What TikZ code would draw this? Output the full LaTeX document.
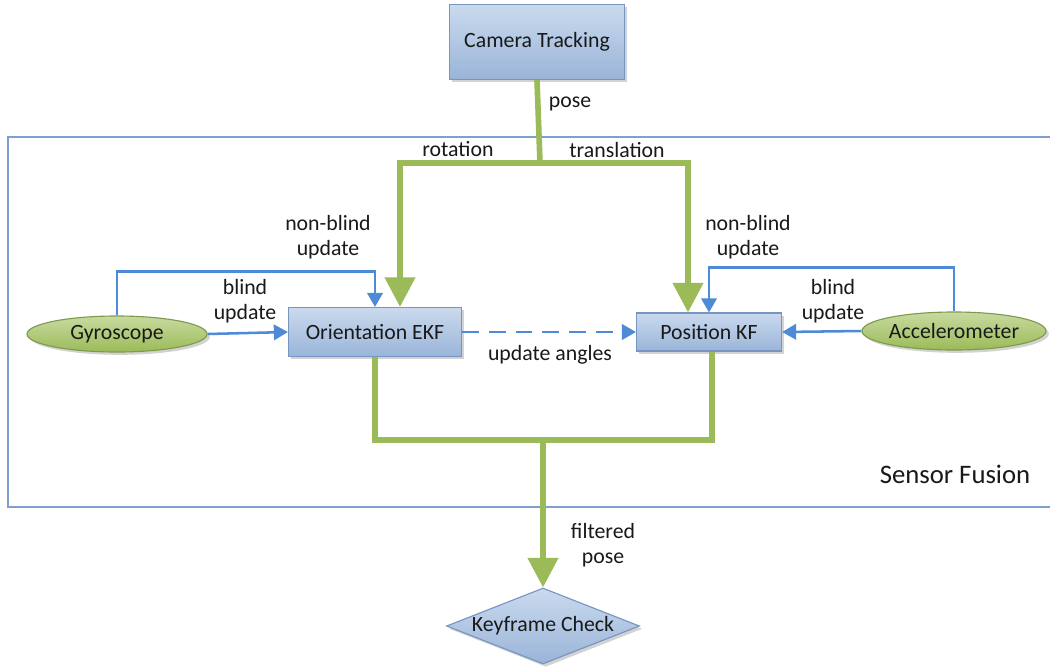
\documentclass[tikz,border=0pt]{standalone}
\usepackage{fontspec}
\setmainfont{Carlito}
\usetikzlibrary{arrows.meta,shapes.geometric,shadows}
\definecolor{boxtop}{HTML}{CADAEE}
\definecolor{boxbot}{HTML}{9AB4D8}
\definecolor{boxline}{HTML}{7795C0}
\definecolor{sensortop}{HTML}{C8DAA0}
\definecolor{sensorbot}{HTML}{9BBB59}
\definecolor{sensorline}{HTML}{7F9A4C}
\definecolor{flowgreen}{HTML}{9BBB59}
\definecolor{flowblue}{HTML}{4F8AD6}
\definecolor{frameline}{HTML}{7E9FD0}

\begin{document}
\begin{tikzpicture}[x=0.025cm,y=-0.025cm]
\tikzstyle{every node}+=[font=\fontsize{15.5}{17.5}\selectfont, text=black!90]
\tikzstyle{blockbox}=[draw=boxline, line width=0.8pt, top color=boxtop, bottom color=boxbot, inner sep=0pt, drop shadow={opacity=0.35, shadow xshift=2pt, shadow yshift=-2pt}]
\tikzstyle{sensor}=[ellipse, draw=sensorline, line width=0.8pt, top color=sensortop, bottom color=sensorbot, inner sep=0pt, drop shadow={opacity=0.35, shadow xshift=2pt, shadow yshift=-2pt}]
\tikzstyle{greenline}=[draw=flowgreen, line width=4pt]
\tikzstyle{greenarrow}=[greenline, -{Triangle[length=21pt, width=21pt]}]
\tikzstyle{blueline}=[draw=flowblue, line width=1.8pt]
\tikzstyle{bluearrow}=[blueline, -{Triangle[length=10pt, width=11pt]}]
\tikzstyle{lbl}=[align=center, inner sep=0pt]
\useasboundingbox (0,0) rectangle (1050,666);
\fill [white] (0,0) rectangle (1050,666);
% sensor fusion frame
\draw [frameline, line width=0.8pt] (8,137) rectangle (1056,507);
\node [font=\fontsize{19}{21}\selectfont] (fusion) at (955,474) {Sensor Fusion};
% blocks
\node [blockbox, minimum width=4.375cm, minimum height=1.875cm] (cam) at (537,42) {Camera Tracking};
\node [blockbox, minimum width=4.325cm, minimum height=1.225cm] (ekf) at (375,332) {Orientation EKF};
\node [blockbox, minimum width=3.625cm, minimum height=0.95cm] (pos) at (709,332) {Position KF};
\node [sensor, minimum width=4.5cm, minimum height=0.9cm] (gyro) at (117,334) {Gyroscope};
\node [sensor, minimum width=4.575cm, minimum height=0.95cm] (acc) at (954,331) {Accelerometer};
\node [blockbox, diamond, aspect=2.5, minimum width=4.825cm, minimum height=1.9cm] (key) at (543,626) {Keyframe Check};
% camera pose split
\coordinate (split) at (540,163);
\draw [greenline] (cam.south) -- (split);
\draw [greenarrow] (split) -| ([xshift=0.625cm]ekf.north);
\draw [greenarrow] (split) -| ([xshift=-0.525cm]pos.north);
\node [lbl] (pose) at (570,104) {pose};
\node [lbl] (rot) at (458,149) {rotation};
\node [lbl] (trans) at (617,150) {translation};
\node [lbl] (nbl) at (328,237) {non-blind\\update};
\node [lbl] (nbr) at (748,237) {non-blind\\update};
% gyroscope
\draw [bluearrow] (gyro.north) -- ++(0,-44) -| (ekf.north);
\draw [bluearrow] (gyro.east) -- (ekf.west);
\node [lbl] (bl) at (245,301) {blind\\update};
% accelerometer
\draw [bluearrow] (acc.north) -- ++(0,-44) -| (pos.north);
\draw [bluearrow] (acc.west) -- (pos.east);
\node [lbl] (br) at (833,301) {blind\\update};
% angles
\draw [bluearrow, dashed, dash pattern=on 12pt off 7pt] (ekf.east) -- (pos.west);
\node [lbl] (ang) at (550,355) {update angles};
% merge to keyframe check
\coordinate (merge) at (543,440);
\draw [greenline] (ekf.south) -- ++(0,83) -| ([xshift=0.075cm]pos.south);
\draw [greenarrow] (merge) -- (key.north);
\node [lbl] (filt) at (603,545) {filtered\\pose};
\end{tikzpicture}
\end{document}
